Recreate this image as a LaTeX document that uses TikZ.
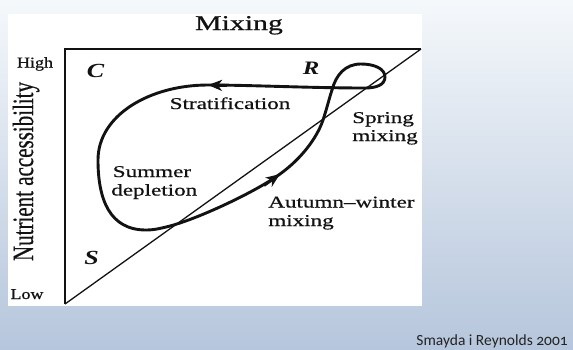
\documentclass[tikz,border=0pt]{standalone}
\usepackage{fontspec}
\setmainfont{Liberation Serif}
\newfontfamily\heavy{Liberation Serif}[FakeBold=0.6]
\newfontfamily\slidefont[Numbers=OldStyle]{Carlito}
\usetikzlibrary{arrows.meta}
\definecolor{bgtop}{RGB}{245,248,251}
\definecolor{bgbot}{RGB}{182,198,220}
\definecolor{ink}{RGB}{18,18,18}
\begin{document}
\begin{tikzpicture}[x=1pt,y=-1pt,
  lab/.style={font=\heavy\fontsize{16.5}{18}\selectfont, xscale=1.4, inner sep=0pt, text=ink},
  small/.style={font=\heavy\fontsize{15}{17}\selectfont, xscale=1.2, inner sep=0pt, text=ink},
  corner/.style={font=\fontsize{20}{22}\selectfont\bfseries\itshape, xscale=1.3, inner sep=0pt, text=ink},
  axis/.style={draw=ink, line width=2pt},
  diag/.style={draw=ink, line width=1.3pt},
  curve/.style={draw=ink, line width=2.9pt},
  arrowhead/.style={draw=ink, line width=2.9pt, -{Stealth[length=14pt,width=11pt,inset=4pt]}}]
\useasboundingbox (0,0) rectangle (573,349);
% slide background
\shade[top color=bgtop, bottom color=bgbot] (0,0) rectangle (573,349);
% image area
\fill[white] (8,14) rectangle (422,306);
% triangle
\coordinate (tl) at (65,49);
\coordinate (tr) at (421,49);
\coordinate (bl) at (65,304);
\draw[axis] (bl) -- (tl) -- (tr);
\draw[diag] (bl) -- (tr);
% title and axis labels
\node[font=\heavy\fontsize{21}{24}\selectfont, xscale=1.42, inner sep=0pt, text=ink, anchor=base] (mix) at (239,30) {Mixing};
\node[small, anchor=base] (high) at (35,67.5) {High};
\node[small, anchor=base] (low) at (27,299) {Low};
\node[font=\heavy\fontsize{21}{24}\selectfont, xscale=1.4, rotate=90, inner sep=0pt, text=ink, anchor=base] (nut) at (33,171.5) {Nutrient accessibility};
% corner letters
\node[corner, anchor=base] (C) at (95.5,77) {C};
\node[corner, anchor=base, font=\fontsize{19}{22}\selectfont\bfseries\itshape] (R) at (311,74.5) {R};
\node[corner, anchor=base] (S) at (91.5,264) {S};
% labels
\node[lab, anchor=base] (strat) at (230,109) {Stratification};
\node[lab, anchor=base west] (sum1) at (112.5,177) {Summer};
\node[lab, anchor=base west] (sum2) at (111,195.5) {depletion};
\node[lab, anchor=base west] (spr1) at (352,123) {Spring};
\node[lab, anchor=base west] (spr2) at (352,141) {mixing};
\node[lab, anchor=base west] (aut1) at (268,207.5) {Autumn–winter};
\node[lab, anchor=base west] (aut2) at (268,226) {mixing};
% the seasonal curve
\coordinate (p0) at (170,226);
\coordinate (aw) at (280,174);
\coordinate (dx) at (323,120);
\coordinate (hx) at (332,90);
\coordinate (lt) at (361,64);
\coordinate (lr) at (385,77);
\coordinate (lb) at (365,88);
\coordinate (st) at (208,85);
\coordinate (lf) at (98,160);
\coordinate (bt) at (146,230);
\draw[curve] (p0) .. controls (200,218) and (257,191) .. (aw)
  .. controls (301,159) and (317,138) .. (dx)
  .. controls (327,108) and (329,99) .. (hx)
  .. controls (336,75) and (345,64) .. (lt)
  .. controls (375,64) and (385,69) .. (lr)
  .. controls (385,85) and (376,88) .. (lb)
  .. controls (310,88) and (250,85) .. (st)
  .. controls (150,85) and (98,115) .. (lf)
  .. controls (98,200) and (110,230) .. (bt)
  .. controls (155,230) and (162,228) .. (p0) -- cycle;
\coordinate (aw0) at (264,185.5);
\coordinate (st0) at (227,85.5);
\draw[arrowhead] (aw0) -- (aw);
\draw[arrowhead] (st0) -- (st);
% source
\node[font=\slidefont\fontsize{15.5}{18}\selectfont, text={rgb,255:red,35;green,35;blue,35}, inner sep=0pt, anchor=base east] (src) at (568,345) {Smayda i Reynolds 2001};
\end{tikzpicture}
\end{document}
